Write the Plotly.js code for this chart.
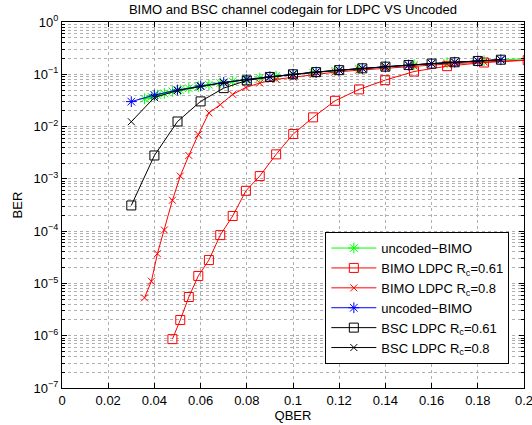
<!DOCTYPE html>
<html><head><meta charset="utf-8">
<script src="https://cdn.plot.ly/plotly-3.0.1.min.js"></script>
<style>html,body{margin:0;padding:0;background:#fff}</style>
</head><body><div id="chart" style="width:532px;height:425px"></div>
<script>
// ---- data ----
const qberBSC = [0.03,0.04,0.05,0.06,0.07,0.08,0.09,0.10,0.11,0.12,0.13,0.14,0.15,0.16,0.17,0.18,0.19];
const berUncodedBSC = [0.030,0.040,0.050,0.060,0.070,0.080,0.090,0.100,0.110,0.120,0.130,0.140,0.150,0.160,0.170,0.180,0.190];
const berBscLdpc061 = [3.1e-4,2.8e-3,0.0125,0.0303,0.0544,0.0763,0.089,0.100,0.110,0.120,0.130,0.140,0.150,0.160,0.170,0.180,0.190];
const berBscLdpc08  = [0.0124,0.036,0.049,0.059,0.069,0.079,0.089,0.100,0.110,0.120,0.130,0.140,0.150,0.160,0.170,0.180,0.190];

const qberBIMO = [0.0357,0.0387,0.0413,0.0443,0.0478,0.0512,0.0549,0.0590,0.0636,0.0685,0.0739,0.0796,0.0856,0.0927,0.1001,0.1087,0.1182,0.1286,0.1399,0.1524,0.1667,0.1827,0.2016];
const berUncodedBIMO = [0.034,0.037,0.040,0.043,0.047,0.050,0.054,0.058,0.063,0.068,0.073,0.079,0.085,0.092,0.100,0.108,0.118,0.128,0.139,0.152,0.166,0.182,0.200];
const berBimoLdpc08 = [5.3e-6,1.1e-5,3.7e-5,1.05e-4,3.9e-4,1.13e-3,2.8e-3,7.0e-3,0.0183,0.0262,0.0412,0.056,0.068,0.080,0.088,0.099,0.110,0.120,0.131,0.143,0.157,0.172,0.188];
const qberBimo061 = [0.0478,0.0512,0.0549,0.0590,0.0636,0.0685,0.0739,0.0796,0.0856,0.0927,0.1001,0.1087,0.1182,0.1286,0.1399,0.1524,0.1667,0.1827,0.2016];
const berBimoLdpc061 = [8.6e-7,2.0e-6,5.5e-6,1.39e-5,2.8e-5,8.4e-5,1.95e-4,5.9e-4,1.13e-3,2.94e-3,7.2e-3,0.015,0.0311,0.0514,0.0773,0.113,0.143,0.168,0.186];

const seriesNames = ['uncoded\u2212BIMO','BIMO LDPC R<sub>c</sub>=0.61','BIMO LDPC R<sub>c</sub>=0.8',
                     'uncoded\u2212BIMO','BSC LDPC R<sub>c</sub>=0.61','BSC LDPC R<sub>c</sub>=0.8'];
const xTicks = [0,0.02,0.04,0.06,0.08,0.10,0.12,0.14,0.16,0.18,0.20];
const yDecades = [-7,-6,-5,-4,-3,-2,-1,0];

// ---- build ----
function tr(x, y, name, color, symbol, size){
  return {x:x, y:y, name:name, type:'scatter', mode:'lines+markers',
    line:{color:color, width:1},
    marker:{symbol:symbol, size:size, color:color, line:{color:color, width:1}}};
}
const traces = [
  tr(qberBIMO, berUncodedBIMO, seriesNames[0], '#00ff00', 'asterisk-open', 9),
  tr(qberBimo061, berBimoLdpc061, seriesNames[1], '#ff0000', 'square-open', 9),
  tr(qberBIMO, berBimoLdpc08, seriesNames[2], '#ff0000', 'x-thin-open', 7),
  tr(qberBSC, berUncodedBSC, seriesNames[3], '#0000ff', 'asterisk-open', 9),
  tr(qberBSC, berBscLdpc061, seriesNames[4], '#000000', 'square-open', 9),
  tr(qberBSC, berBscLdpc08, seriesNames[5], '#000000', 'x-thin-open', 7)
];

const yTickVals = yDecades.map(d => Math.pow(10, d));
const yTickText = yDecades.map(d => '10<sup>' + (d < 0 ? '\u2212' + (-d) : d) + '</sup>');
const yMinor = [];
yDecades.slice(0, -1).forEach(d => { for (let k = 2; k <= 9; k++) yMinor.push(k * Math.pow(10, d)); });

const font = {family:'"Liberation Sans", Arial, Helvetica, sans-serif', size:13, color:'#000'};
const gridColor = '#b0b0b0';

const layout = {
  width:532, height:425,
  margin:{l:62, r:8, t:22, b:37},
  paper_bgcolor:'#fff', plot_bgcolor:'#fff',
  font:font,
  showlegend:true,
  title:{text:'BIMO and BSC channel codegain for LDPC VS Uncoded', font:{family:font.family, size:13, color:'#000'},
         x:0.5, xref:'paper', xanchor:'center', y:1-9/425, yref:'container', yanchor:'middle'},
  xaxis:{range:[0,0.2], tickmode:'array', tickvals:xTicks, ticktext:xTicks.map(v => String(+v.toFixed(2))),
         ticks:'inside', ticklen:5, tickcolor:'#000', showline:true, linecolor:'#000', linewidth:1, mirror:'allticks',
         showgrid:true, gridcolor:gridColor, griddash:'dot', gridwidth:1, zeroline:false, ticklabeloverflow:'allow',
         tickfont:{size:13}, title:{text:'QBER', font:{size:13}, standoff:4}},
  yaxis:{type:'log', range:[-7,0], tickmode:'array', tickvals:yTickVals, ticktext:yTickText,
         ticks:'inside', ticklen:5, tickcolor:'#000', showline:true, linecolor:'#000', linewidth:1, mirror:'allticks',
         showgrid:true, gridcolor:gridColor, griddash:'dot', gridwidth:1, zeroline:false, ticklabeloverflow:'allow',
         minor:{tickmode:'array', tickvals:yMinor, ticks:'inside', ticklen:3, tickcolor:'#000',
                showgrid:true, gridcolor:gridColor, griddash:'dot', gridwidth:1},
         tickfont:{size:13}, title:{text:'BER', font:{size:13}, standoff:8}},
  legend:{x:0.57, y:0.426, xanchor:'left', yanchor:'top', bgcolor:'#fff', bordercolor:'#000', borderwidth:1,
          font:{size:13}, itemwidth:45, tracegroupgap:0, traceorder:'normal'}
};
Plotly.newPlot('chart', traces, layout, {staticPlot:true, displayModeBar:false});
</script></body></html>
